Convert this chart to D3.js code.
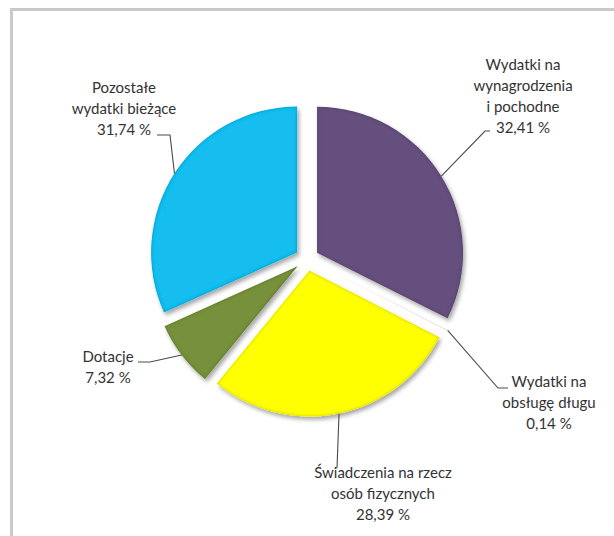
<!DOCTYPE html>
<html><head><meta charset="utf-8">
<script src="https://cdn.jsdelivr.net/npm/d3@7"></script>
<style>body{margin:0;background:#fff}svg{display:block}</style>
</head><body>
<svg id="chart" width="614" height="536"></svg>
<script>
const categories = ["Wydatki na wynagrodzenia i pochodne", "Wydatki na obsługę długu", "Świadczenia na rzecz osób fizycznych", "Dotacje", "Pozostałe wydatki bieżące"];
const values = [32.41, 0.14, 28.39, 7.32, 31.74];
const valueLabels = ["32,41 %", "0,14 %", "28,39 %", "7,32 %", "31,74 %"];
const labelLines = [["Wydatki na", "wynagrodzenia", "i pochodne"], ["Wydatki na", "obsługę długu"], ["Świadczenia na rzecz", "osób fizycznych"], ["Dotacje"], ["Pozostałe", "wydatki bieżące"]];
const colors = ["#654f7e", "#e4e4e4", "#ffff00", "#76903a", "#16bdef"];

// layout
const cx = 307, cy = 259, R = 146, explode = 11.8;
const labelPos = [
  {x: 523, y: 65, leader: [[485, 131], [490, 131]]},
  {x: 549, y: 382, leader: [[498, 388], [508, 388]]},
  {x: 383, y: 473, leader: [[337, 468]]},
  {x: 108, y: 357, leader: [[150, 362], [138, 362]]},
  {x: 124, y: 88, leader: [[170, 135], [157, 135]]}
];
const lineH = 21;

const svg = d3.select("#chart");
const defs = svg.append("defs");
const f = defs.append("filter").attr("id", "bevel").attr("x", "-20%").attr("y", "-20%").attr("width", "140%").attr("height", "140%");
f.append("feGaussianBlur").attr("in", "SourceAlpha").attr("stdDeviation", 2.2).attr("result", "blur");
f.append("feOffset").attr("in", "blur").attr("dx", 1.5).attr("dy", 2.5).attr("result", "off");
f.append("feFlood").attr("flood-color", "#000").attr("flood-opacity", 0.35).attr("result", "fl");
f.append("feComposite").attr("in", "fl").attr("in2", "off").attr("operator", "in").attr("result", "shadow");
f.append("feGaussianBlur").attr("in", "SourceAlpha").attr("stdDeviation", 1.8).attr("result", "blur2");
f.append("feComposite").attr("in", "SourceAlpha").attr("in2", "blur2").attr("operator", "arithmetic").attr("k2", 1).attr("k3", -1).attr("result", "edge");
f.append("feFlood").attr("flood-color", "#000").attr("flood-opacity", 0.55).attr("result", "fl2");
f.append("feComposite").attr("in", "fl2").attr("in2", "edge").attr("operator", "in").attr("result", "inner");
const m = f.append("feMerge");
m.append("feMergeNode").attr("in", "shadow");
m.append("feMergeNode").attr("in", "SourceGraphic");
m.append("feMergeNode").attr("in", "inner");

// frame
svg.append("rect").attr("x", 11.5).attr("y", 9.5).attr("width", 640).attr("height", 560)
  .attr("fill", "none").attr("stroke", "#c9c9c9").attr("stroke-width", 3);

const pie = d3.pie().sort(null).value(d => d);
const arcs = pie(values);
const arc = d3.arc().innerRadius(0).outerRadius(R);

const g = svg.append("g").attr("transform", `translate(${cx},${cy})`);
arcs.forEach((a, i) => {
  const mid = (a.startAngle + a.endAngle) / 2;
  const ox = Math.sin(mid) * explode, oy = -Math.cos(mid) * explode;
  g.append("path").attr("d", arc(a)).attr("fill", colors[i])
    .attr("transform", `translate(${ox},${oy})`).attr("filter", i === 1 ? null : "url(#bevel)");
});

// leaders
arcs.forEach((a, i) => {
  const mid = (a.startAngle + a.endAngle) / 2;
  const sx = cx + Math.sin(mid) * (explode + R), sy = cy - Math.cos(mid) * (explode + R);
  const pts = [[sx, sy]].concat(labelPos[i].leader);
  svg.append("path").attr("d", d3.line()(pts)).attr("fill", "none")
    .attr("stroke", "#4a4a4a").attr("stroke-width", 1.1);
});

// labels
categories.forEach((c, i) => {
  const lines = labelLines[i].concat([valueLabels[i]]);
  const t = svg.append("text").attr("text-anchor", "middle")
    .attr("font-family", "Lato, 'Open Sans', sans-serif").attr("font-size", 15).attr("fill", "#333");
  lines.forEach((l, k) => {
    t.append("tspan").attr("x", labelPos[i].x).attr("y", labelPos[i].y + k * lineH).attr("dy", "0.35em").text(l);
  });
});
</script>
</body></html>
